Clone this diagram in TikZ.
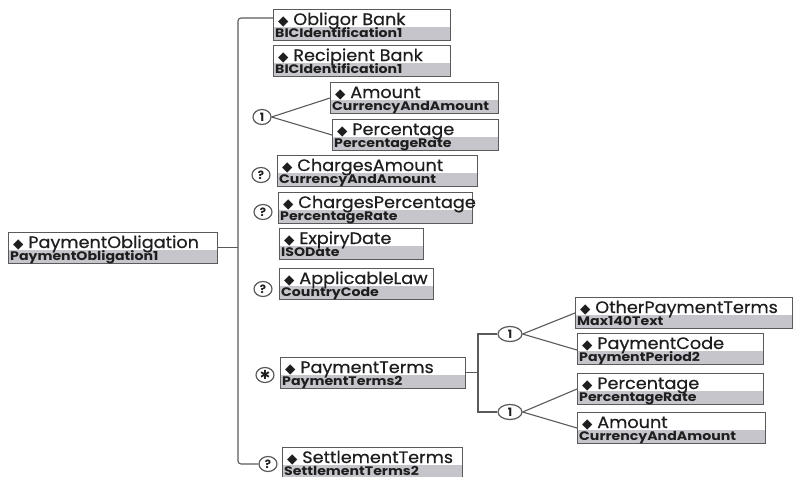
\documentclass[tikz,border=0pt]{standalone}
\usepackage{fontspec}
\setmainfont{Poppins}
\newfontfamily\dejavu{DejaVu Sans}
\newfontfamily\ttlfont{Poppins}[FakeBold=0.5,FakeStretch=1.07]
\newfontfamily\typfont{Poppins}[FakeStretch=1.14]
\usetikzlibrary{shapes.geometric}
\definecolor{boxgray}{HTML}{C6C5CC}
\definecolor{linecol}{HTML}{5A5A5A}
\definecolor{txt}{HTML}{1E1E1E}
\newcommand\dia{{\dejavu\fontsize{13.5}{13.5}\selectfont ◆}}
\newcommand\elem[6]{%
 \node[ebox, minimum width=#4pt, anchor=north west] (#1) at (#2pt,-#3pt) {};
 \fill[boxgray] (#1.south west) rectangle ([yshift=13pt]#1.south east);
 \draw[boxline] (#1.north west) rectangle (#1.south east);
 \node[ttl] (#1-t) at ([xshift=5pt,yshift=-16pt]#1.north west) {\dia\ #5};
 \node[typ] (#1-s) at ([xshift=2pt,yshift=2.2pt]#1.south west) {#6};
}
\tikzset{
 ebox/.style={inner sep=0pt, outer sep=0pt, minimum height=31pt, draw=none},
 ttl/.style={anchor=base west, inner sep=0pt, font=\ttlfont\fontsize{16.5}{16.5}\selectfont, text=txt},
 typ/.style={anchor=base west, inner sep=0pt, font=\typfont\bfseries\fontsize{12.4}{12.4}\selectfont, text=txt},
 boxline/.style={draw=linecol, line width=0.8pt},
 conn/.style={draw=linecol, line width=1.1pt},
 card/.style={ellipse, draw=linecol, line width=1.2pt, fill=white, inner sep=0pt, minimum width=18pt, minimum height=15pt, text=txt, font=\bfseries\fontsize{11.5}{11.5}\selectfont},
 wcard/.style={card, minimum width=24pt},
}
\begin{document}
\begin{tikzpicture}[x=1pt,y=1pt]
\useasboundingbox[fill=white] (0,0) rectangle (807,-477);
% elements
\elem{po}{8}{232}{209}{PaymentObligation}{PaymentObligation1}
\elem{ob}{273}{9}{177}{Obligor Bank}{BICIdentification1}
\elem{rb}{273}{45}{177}{Recipient Bank}{BICIdentification1}
\elem{am}{330}{82}{168}{Amount}{CurrencyAndAmount}
\elem{pc}{332}{119}{166}{Percentage}{PercentageRate}
\elem{ca}{277}{155}{200}{ChargesAmount}{CurrencyAndAmount}
\elem{cp}{278}{192}{194}{ChargesPercentage}{PercentageRate}
\elem{ed}{279}{228}{144}{ExpiryDate}{ISODate}
\elem{al}{279}{268}{154}{ApplicableLaw}{CountryCode}
\elem{pt}{280}{357}{185}{PaymentTerms}{PaymentTerms2}
\elem{st}{282}{447}{180}{SettlementTerms}{SettlementTerms2}
\elem{op}{575}{297}{217}{OtherPaymentTerms}{Max140Text}
\elem{pcd}{577}{333}{186}{PaymentCode}{PaymentPeriod2}
\elem{pc2}{577}{373}{186}{Percentage}{PercentageRate}
\elem{am2}{577}{412}{188}{Amount}{CurrencyAndAmount}
% cardinality marks
\node[card] (c1) at (262,-117) {1};
\node[card] (q1) at (261,-175) {?};
\node[card] (q2) at (263,-212) {?};
\node[card] (q3) at (263,-289) {?};
\node[card, font=\dejavu\fontsize{12.5}{12.5}\selectfont] (s1) at (265,-375) {✱};
\node[card] (q4) at (268,-464) {?};
\node[wcard] (c2) at (510,-334) {1};
\node[wcard] (c3) at (510,-412) {1};
% bus
\coordinate (bt) at (238,-18);
\coordinate (pb) at (478,-372.5);
\draw[conn, rounded corners=3pt] ([yshift=-9pt]ob.north west) -- (bt) |- (q4.west);
\draw[conn] (po.east) -- (po.east -| bt);
% choice 1
\draw[conn] (c1.east) -- ([yshift=-16pt]am.north west);
\draw[conn] (c1.east) -- ([yshift=-16pt]pc.north west);
% payment terms
\draw[conn] (pt.east) -- (pb);
\draw[conn] (c2.west) -| (pb) |- (c3.west);
\draw[conn] (c2.east) -- ([yshift=-16pt]op.north west);
\draw[conn] (c2.east) -- ([yshift=-17pt]pcd.north west);
\draw[conn] (c3.east) -- ([yshift=-16pt]pc2.north west);
\draw[conn] (c3.east) -- ([yshift=-16pt]am2.north west);
\end{tikzpicture}
\end{document}
